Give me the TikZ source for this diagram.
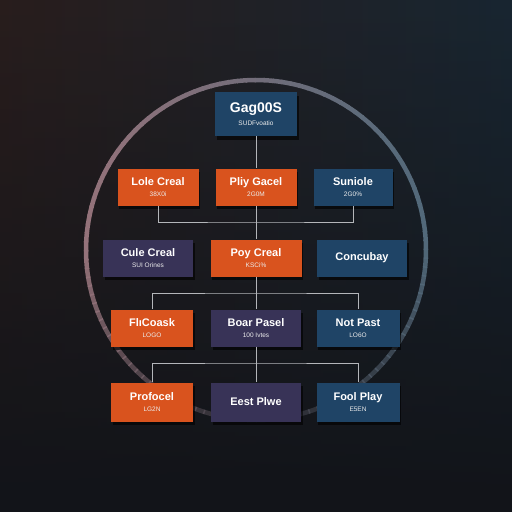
\documentclass[tikz,border=0pt]{standalone}
\usepackage{fontspec}
\setmainfont{Liberation Sans}
\usetikzlibrary{shadows,fadings,calc}
\definecolor{bgA}{HTML}{33221F}
\definecolor{bgB}{HTML}{1C2E3C}
\definecolor{bgD}{HTML}{121419}
\definecolor{cOr}{HTML}{D9531E}
\definecolor{cPu}{HTML}{383357}
\definecolor{cBl}{HTML}{1F4466}
\definecolor{ringL}{HTML}{94727A}
\definecolor{ringR}{HTML}{52697A}
\definecolor{lineC}{HTML}{B4B6BA}
\tikzset{
  box/.style={rectangle, minimum width=#1, minimum height=37pt, inner sep=1pt, align=center,
    text=white, font=\bfseries\fontsize{11}{11.5}\selectfont,
    drop shadow={fill=black, opacity=0.6, shadow xshift=1.5pt, shadow yshift=-3.5pt}},
  orbox/.style={box=#1, fill=cOr},
  pubox/.style={box=#1, fill=cPu},
  blbox/.style={box=#1, fill=cBl},
  conn/.style={draw=lineC, line width=0.9pt},
}
\newcommand{\sub}[1]{\\[-1pt]{\fontsize{6.5}{6.5}\selectfont\mdseries\color{white!85!gray}#1}}
\begin{document}
\begin{tikzpicture}[x=1pt,y=-1pt]
\useasboundingbox (0,0) rectangle (512,512);
% background
\shade[left color=bgA, right color=bgB] (0,0) rectangle (512,512);
\fill[bgD, path fading=north] (0,0) rectangle (512,512);
\fill[bgD, opacity=0.3] (0,0) rectangle (512,512);
% ring
\foreach \a in {0,3,...,357}{
  \pgfmathsetmacro{\p}{50*(1+cos(\a))}
  \pgfmathsetmacro{\q}{\a>180 ? 100-70*sin(\a-180) : 100}
  \pgfmathsetmacro{\q}{max(\q,25)}
  \draw[line width=4.5pt, color=ringR!\p!ringL, opacity=\q/100]
    ($(256,250)+(\a:170pt)$) arc[start angle=\a, end angle=\a+3.5, radius=170pt];
}
% boxes
\node[blbox=82pt, minimum height=44pt, font=\bfseries\fontsize{14}{14.5}\selectfont] (root) at (256,114) {Gag00S\sub{SUDFvoatio}};
\node[orbox=81pt] (a1) at (158,187) {Lole Creal\sub{38X0i}};
\node[orbox=81pt] (a2) at (256,187) {Pliy Gacel\sub{2G0M}};
\node[blbox=79pt] (a3) at (353,187) {Suniole\sub{2G0\%}};
\node[pubox=90pt] (b1) at (148,258) {Cule Creal\sub{SUI Orines}};
\node[orbox=91pt] (b2) at (256,258) {Poy Creal\sub{KSCi\%}};
\node[blbox=90pt] (b3) at (362,258) {Concubay};
\node[orbox=82pt] (c1) at (152,328) {FlıCoask\sub{LOGO}};
\node[pubox=90pt] (c2) at (256,328) {Boar Pasel\sub{100 Ivtes}};
\node[blbox=83pt] (c3) at (358,328) {Not Past\sub{LO6O}};
\node[orbox=82pt, minimum height=39pt] (d1) at (152,402) {Profocel\sub{LG2N}};
\node[pubox=90pt, minimum height=39pt] (d2) at (256,402) {Eest Plwe};
\node[blbox=83pt, minimum height=39pt] (d3) at (358,402) {Fool Play\sub{E5EN}};
% connectors
\coordinate (h1) at (256,222);
\coordinate (h2) at (256,293);
\coordinate (h3) at (256,363);
\draw[conn] (root.south) -- (a2.north);
\draw[conn] (a1.south) |- (h1) -| (a3.south);
\draw[conn] (a2.south) -- (b2.north);
\draw[conn] (b2.south) -- (c2.north);
\draw[conn] (c1.north) |- (h2) -| (c3.north);
\draw[conn] (c2.south) -- (d2.north);
\draw[conn] (d1.north) |- (h3) -| (d3.north);
\end{tikzpicture}
\end{document}
